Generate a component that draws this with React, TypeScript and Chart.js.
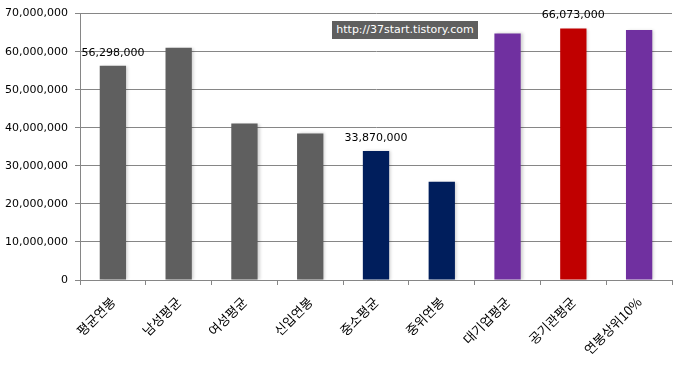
import React, { useEffect, useRef } from "react";
import { Chart, registerables } from "chart.js";

Chart.register(...registerables);

const categories = ["평균연봉", "남성평균", "여성평균", "신입연봉", "중소평균", "중위연봉", "대기업평균", "공기관평균", "연봉상위10%"];
const salaries = [56298000, 61000000, 41100000, 38500000, 33870000, 25800000, 64800000, 66073000, 65700000];
const barColors = ["#5f5f5f", "#5f5f5f", "#5f5f5f", "#5f5f5f", "#001e5c", "#001e5c", "#7030a0", "#c00000", "#7030a0"];
const labeledBars = [0, 4, 7];
const yTicks = [0, 10000000, 20000000, 30000000, 40000000, 50000000, 60000000, 70000000];
const watermark = "http://37start.tistory.com";

const fmt = (v: number) => v.toLocaleString("en-US");

export default function App() {
  const ref = useRef<HTMLCanvasElement | null>(null);
  useEffect(() => {
    if (!ref.current) return;
    const shadowPlugin = {
      id: "barShadow",
      beforeDatasetsDraw(chart: any) {
        const c = chart.ctx;
        c.save();
        c.shadowColor = "rgba(0,0,0,0.18)";
        c.shadowBlur = 3;
        c.shadowOffsetX = 2;
        c.shadowOffsetY = 0;
      },
      afterDatasetsDraw(chart: any) {
        chart.ctx.restore();
        const c = chart.ctx;
        const meta = chart.getDatasetMeta(0);
        c.save();
        c.font = "11px 'DejaVu Sans'";
        c.fillStyle = "#000";
        c.textAlign = "center";
        c.textBaseline = "middle";
        labeledBars.forEach((i) => {
          const el = meta.data[i];
          c.fillText(fmt(salaries[i]), el.x, el.y - 13);
        });
        c.restore();
      },
    };
    const chart = new Chart(ref.current, {
      type: "bar",
      data: {
        labels: categories,
        datasets: [
          {
            data: salaries,
            backgroundColor: barColors,
            barPercentage: 0.4,
            categoryPercentage: 1,
          },
        ],
      },
      options: {
        animation: false,
        responsive: false,
        maintainAspectRatio: false,
        layout: { padding: { top: 11, right: 3, left: 0, bottom: 0 } },
        plugins: { legend: { display: false }, tooltip: { enabled: false } },
        scales: {
          x: {
            offset: true,
            grid: { offset: true, drawOnChartArea: false, drawTicks: true, tickLength: 5, color: "#868686" },
            border: { color: "#868686", width: 1 },
            ticks: {
              minRotation: 45,
              maxRotation: 45,
              autoSkip: false,
              color: "#000",
              padding: 9,
              font: { family: "'Noto Sans CJK KR'", size: 13 },
            },
            afterFit(scale: any) {
              scale.height = 86;
            },
          },
          y: {
            min: 0,
            max: 70000000,
            afterBuildTicks(scale: any) {
              scale.ticks = yTicks.map((v) => ({ value: v }));
            },
            grid: { color: "#868686", tickLength: 5 },
            border: { color: "#868686", width: 1 },
            ticks: {
              color: "#000",
              padding: 7,
              font: { family: "'DejaVu Sans'", size: 11 },
              callback: (v: any) => fmt(Number(v)),
            },
            afterFit(scale: any) {
              scale.width = 80;
            },
          },
        },
      },
      plugins: [shadowPlugin],
    });
    return () => chart.destroy();
  }, []);
  return (
    <div style={{ position: "fixed", left: 0, top: 0, width: 675, height: 366, background: "#fff" }}>
      <canvas ref={ref} width={675} height={366} style={{ display: "block" }} />
      <div
        style={{
          position: "absolute",
          left: 332,
          top: 21,
          width: 146,
          height: 18,
          background: "#5f5f5f",
          color: "#fff",
          fontFamily: "'DejaVu Sans'",
          fontSize: 11,
          lineHeight: "18px",
          textAlign: "center",
        }}
      >
        {watermark}
      </div>
    </div>
  );
}
